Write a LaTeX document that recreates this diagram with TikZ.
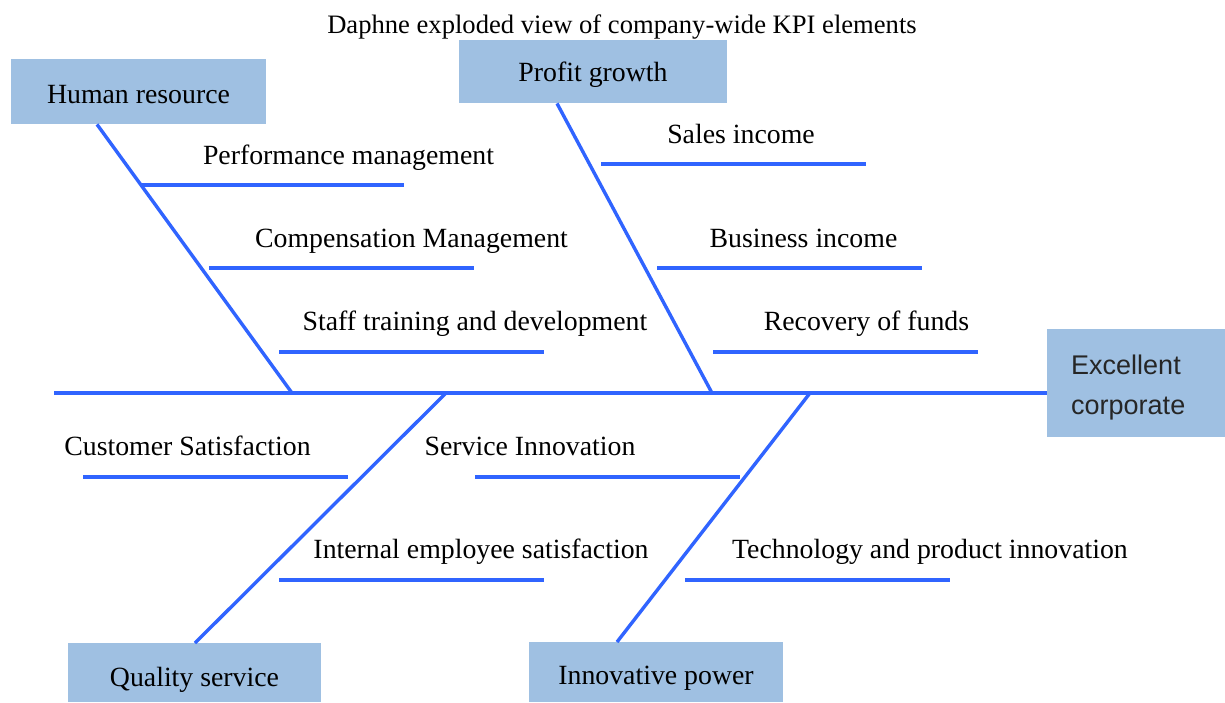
\documentclass[tikz,border=0pt]{standalone}
\usepackage{fontspec}
\setmainfont{Liberation Serif}
\newfontfamily\ecfont{Liberation Sans}
\definecolor{lineblue}{RGB}{48,100,255}
\definecolor{boxblue}{RGB}{159,192,226}
\tikzset{
  bone/.style={draw=lineblue, line width=3.4pt},
  box/.style={fill=boxblue, draw=none, inner sep=0pt, anchor=north west},
  lbl/.style={anchor=base, inner sep=0pt, font=\fontsize{27.8}{32}\selectfont},
}
\begin{document}
\begin{tikzpicture}[x=1pt,y=-1pt]
\useasboundingbox[fill=white] (0,0) rectangle (1225,702);
% title
\node[anchor=base, inner sep=0pt, font=\fontsize{26.6}{30}\selectfont] (title) at (622,33) {Daphne exploded view of company-wide KPI elements};
% boxes
\node[box, minimum width=255pt, minimum height=65pt] (hr) at (11,59) {};
\node[box, minimum width=268pt, minimum height=63pt] (pg) at (459,40) {};
\node[box, minimum width=178pt, minimum height=108pt] (ec) at (1047,329) {};
\node[box, minimum width=253pt, minimum height=59pt] (qs) at (68,643) {};
\node[box, minimum width=254pt, minimum height=60pt] (ip) at (529,642) {};
% box texts
\node[lbl] (hrt) at (138.5,103) {Human resource};
\node[lbl] (pgt) at (593,81) {Profit growth};
\node[lbl] (qst) at (194.5,686) {Quality service};
\node[lbl] (ipt) at (656,684) {Innovative power};
\node[anchor=base west, inner sep=0pt, font=\ecfont\fontsize{27}{40}\selectfont, text=black!85] (ect1) at (1071,374) {Excellent};
\node[anchor=base west, inner sep=0pt, font=\ecfont\fontsize{27}{40}\selectfont, text=black!85] (ect2) at (1071,414) {corporate};
% spine
\coordinate (tail) at (54,393);
\draw[bone] (tail) -- (tail -| ec.west);
% junctions on spine
\coordinate (j1) at (292,393);
\coordinate (j2) at (712,393);
\coordinate (j3) at (446,393);
\coordinate (j4) at (810,393);
% bones
\draw[bone] ([xshift=86pt]hr.south west) -- (j1);
\draw[bone] ([xshift=98pt]pg.south west) -- (j2);
\draw[bone] (j3) -- ([xshift=127pt]qs.north west);
\draw[bone] (j4) -- ([xshift=88pt]ip.north west);
% sub-lines
\coordinate (a1) at (140,185); \coordinate (a2) at (404,185);
\coordinate (b1) at (209,268); \coordinate (b2) at (474,268);
\coordinate (c1) at (279,352); \coordinate (c2) at (544,352);
\coordinate (d1) at (601,164); \coordinate (d2) at (866,164);
\coordinate (e1) at (657,268); \coordinate (e2) at (922,268);
\coordinate (f1) at (713,352); \coordinate (f2) at (978,352);
\coordinate (g1) at (83,477);  \coordinate (g2) at (348,477);
\coordinate (h1) at (475,477); \coordinate (h2) at (740,477);
\coordinate (i1) at (279,580); \coordinate (i2) at (544,580);
\coordinate (k1) at (685,580); \coordinate (k2) at (950,580);
\foreach \p in {a,b,c,d,e,f,g,h,i,k} \draw[bone] (\p1) -- (\p2);
% labels
\node[lbl] (la) at (348.5,164) {Performance management};
\node[lbl] (lb) at (411.5,247) {Compensation Management};
\node[lbl] (lc) at (475,330) {Staff training and development};
\node[lbl] (ld) at (741,143) {Sales income};
\node[lbl] (le) at (803.5,247) {Business income};
\node[lbl] (lf) at (866.5,330) {Recovery of funds};
\node[lbl] (lg) at (187.5,455) {Customer Satisfaction};
\node[lbl] (lh) at (530,455) {Service Innovation};
\node[lbl] (li) at (481,558) {Internal employee satisfaction};
\node[lbl] (lk) at (930,558) {Technology and product innovation};
\end{tikzpicture}
\end{document}
